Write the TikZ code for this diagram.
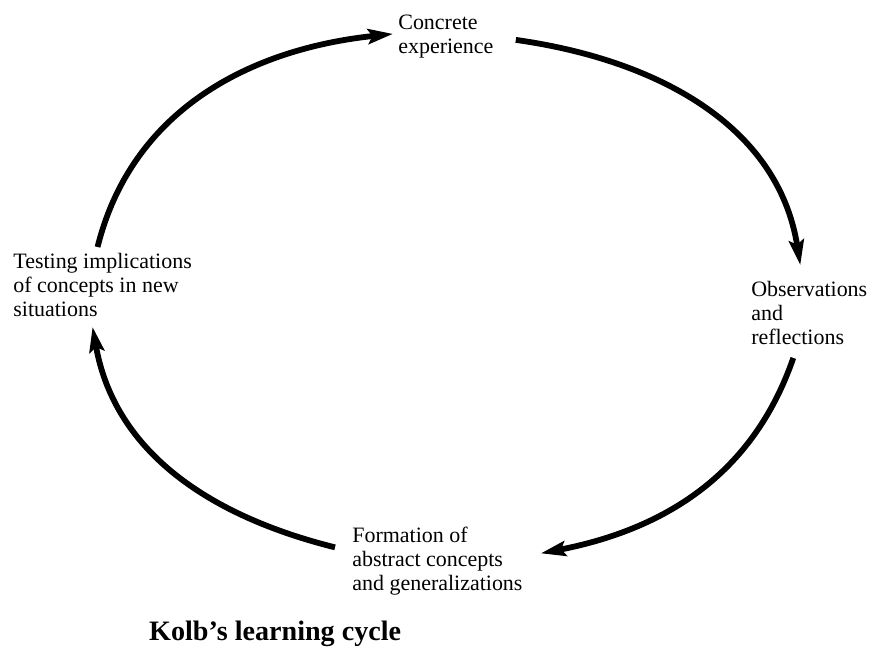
\documentclass[tikz,border=0pt]{standalone}
\usepackage{fontspec}
\setmainfont{Liberation Serif}
\usetikzlibrary{arrows.meta}

\begin{document}
\begin{tikzpicture}[x=0.02cm, y=0.02cm,
    stage/.style={anchor=north west, inner sep=0pt, align=left, font=\fontsize{12.5}{13.6}\selectfont},
    cyclearrow/.style={-{Stealth[length=0.5cm, width=0.3cm, inset=0.09cm]}, line width=3.3pt}]
  \useasboundingbox (0,0) rectangle (881,649);

  % Stages
  \node [stage] (concrete) at (398,634) {Concrete\\experience};
  \node [stage] (observ) at (751,368) {Observations\\and\\reflections};
  \node [stage] (formation) at (352,122) {Formation of\\abstract concepts\\and generalizations};
  \node [stage] (testing) at (13,396) {Testing implications\\of concepts in new\\situations};

  % Cycle
  \draw [cyclearrow] ([shift={(-5,6)}]testing.north) to[out=76, in=186] ([shift={(-5,3)}]concrete.west);
  \draw [cyclearrow] ([shift={(22,-3)}]concrete.east) to[out=-8, in=99] ([shift={(-9,16)}]observ.north);
  \draw [cyclearrow] ([shift={(-16,-13)}]observ.south) to[out=-109, in=11] ([shift={(18,8)}]formation.east);
  \draw [cyclearrow] ([shift={(-17,14)}]formation.west) to[out=166, in=-80] ([shift={(-10,-10)}]testing.south);

  % Title
  \node [anchor=base west, font=\bfseries\fontsize{16}{18}\selectfont] (title) at (143,9) {Kolb's learning cycle};
\end{tikzpicture}
\end{document}
